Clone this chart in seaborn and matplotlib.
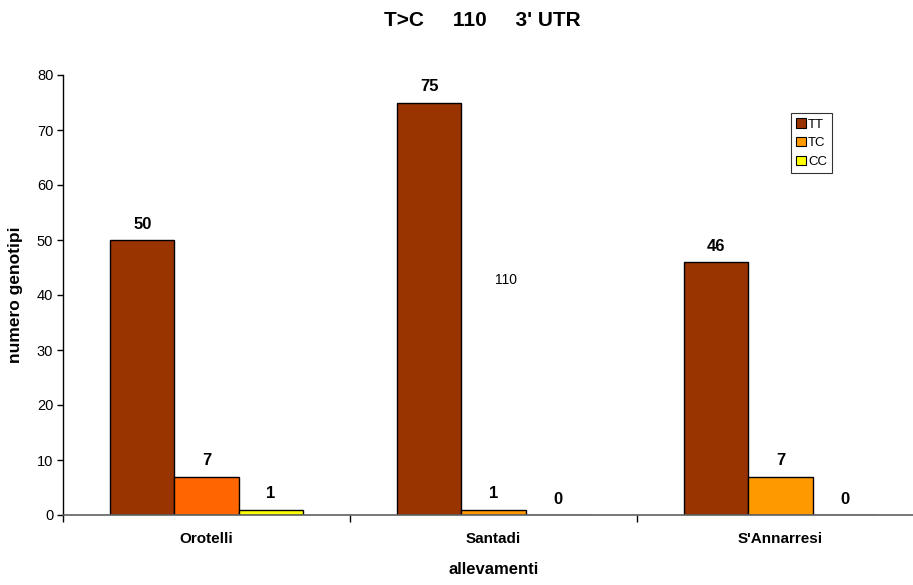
import matplotlib
matplotlib.use("Agg")
import matplotlib.pyplot as plt
import seaborn as sns
import pandas as pd
from matplotlib.patches import Patch

# Genotype counts per farm
farms = ["Orotelli", "Santadi", "S'Annarresi"]
genotypes = ["TT", "TC", "CC"]
tt_counts = [50, 75, 46]
tc_counts = [7, 1, 7]
cc_counts = [1, 0, 0]

title = "T>C     110     3' UTR"
x_label = "allevamenti"
y_label = "numero genotipi"
y_ticks = [0, 10, 20, 30, 40, 50, 60, 70, 80]
note = "110"

palette = {"TT": "#993300", "TC": "#FF9900", "CC": "#FFFF00"}
tc_bar_colors = ["#FF6600", "#FF9900", "#FF9900"]

df = pd.DataFrame({
    "farm": farms * 3,
    "genotype": [g for g in genotypes for _ in farms],
    "count": tt_counts + tc_counts + cc_counts,
})

sns.set_style("white")
plt.rcParams["font.family"] = ["Liberation Sans", "DejaVu Sans"]
plt.rcParams["text.color"] = "black"
plt.rcParams["axes.labelcolor"] = "black"
plt.rcParams["xtick.color"] = "black"
plt.rcParams["ytick.color"] = "black"

fig = plt.figure(figsize=(9.13, 5.85), dpi=100)
ax = fig.add_axes([63 / 913, 1 - 515 / 585, 861 / 913, 440 / 585])

sns.barplot(data=df, x="farm", y="count", hue="genotype", order=farms,
            hue_order=genotypes, palette=palette, width=0.669, dodge=True,
            edgecolor="black", linewidth=1.0, saturation=1, legend=False,
            errorbar=None, ax=ax)

for patch, c in zip(ax.containers[1], tc_bar_colors):
    patch.set_facecolor(c)

for cont in ax.containers:
    ax.bar_label(cont, fmt="%d", padding=6, fontsize=12, fontweight="bold")

ax.set_ylim(0, 80)
ax.set_xlim(-0.5, 2.5)
ax.set_yticks(y_ticks)
ax.set_yticklabels([str(v) for v in y_ticks], fontsize=10.5)
ax.tick_params(axis="y", direction="out", length=4, width=1, color="black",
               left=True, pad=3)

ax.set_xticks([-0.5, 0.5, 1.5, 2.5])
ax.set_xticklabels([])
ax.set_xticks([0, 1, 2], minor=True)
ax.set_xticklabels(farms, minor=True, fontsize=11, fontweight="bold")
ax.tick_params(axis="x", which="major", direction="out", length=5, width=1,
               color="black", bottom=True)
ax.tick_params(axis="x", which="minor", length=0, pad=12)

ax.set_xlabel(x_label, fontsize=12, fontweight="bold", labelpad=12)
ax.set_ylabel(y_label, fontsize=12.5, fontweight="bold", labelpad=10)

for side in ["top", "right"]:
    ax.spines[side].set_visible(False)
ax.spines["left"].set_color("black")
ax.spines["bottom"].set_color("#606060")
ax.spines["left"].set_linewidth(1)
ax.spines["bottom"].set_linewidth(1.2)

fig.text(482 / 913, 1 - 20 / 585, title, ha="center", va="center",
         fontsize=15, fontweight="bold")
ax.text(1.043, 42.7, note, ha="center", va="center", fontsize=10)

handles = [Patch(facecolor=palette[g], edgecolor="black", linewidth=0.8)
           for g in genotypes]
leg = fig.legend(handles, genotypes, loc="upper left",
                 bbox_to_anchor=(791 / 913, 1 - 113 / 585), fontsize=9.5,
                 frameon=True, fancybox=False, handlelength=0.7,
                 handleheight=0.7, handletextpad=0.2, borderpad=0.4,
                 labelspacing=0.5, borderaxespad=0)
leg.get_frame().set_edgecolor("black")
leg.get_frame().set_linewidth(0.8)

fig.savefig("out.png", dpi=100)
